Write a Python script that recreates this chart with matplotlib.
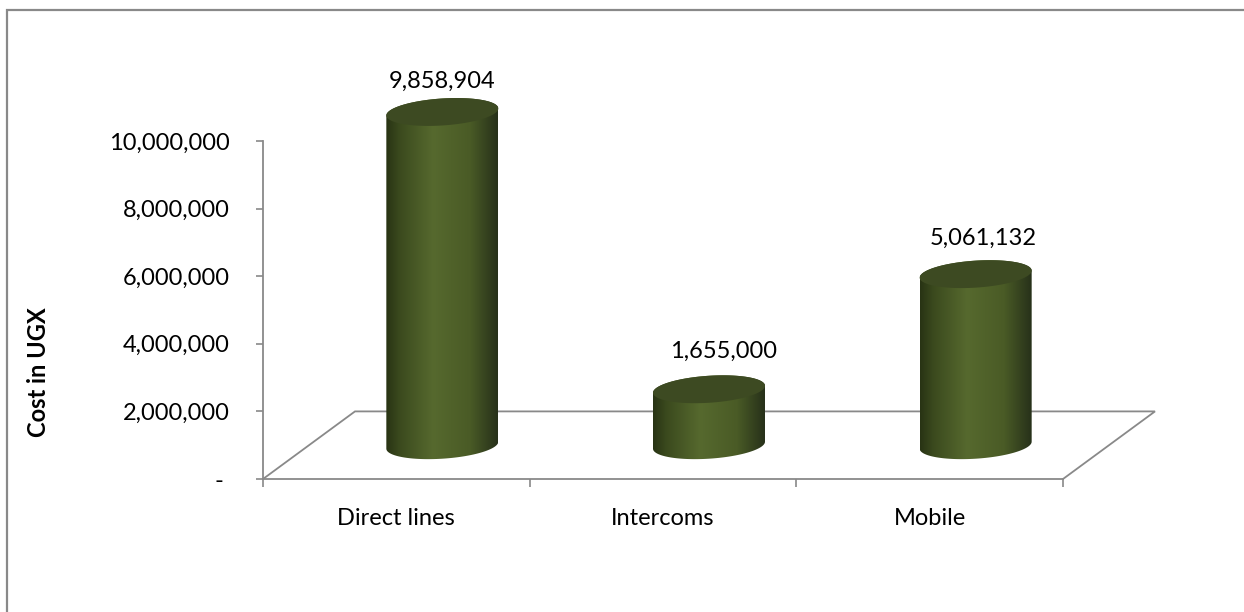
import numpy as np
import matplotlib
matplotlib.use("Agg")
import matplotlib.pyplot as plt
from matplotlib.patches import Polygon
from matplotlib.lines import Line2D
from matplotlib.colors import LinearSegmentedColormap
from matplotlib.ticker import FuncFormatter

categories = ["Direct lines", "Intercoms", "Mobile"]
costs = [9858904, 1655000, 5061132]
y_ticks = [0, 2000000, 4000000, 6000000, 8000000, 10000000]

plt.rcParams['font.family'] = ['Lato', 'DejaVu Sans']
FS = 17

W, H = 1244, 612
fig = plt.figure(figsize=(W / 100, H / 100), dpi=100)
ax = fig.add_axes([0, 0, 1, 1])
ax.patch.set_visible(False)

# plot area in pixels
x0_px, cat_px = 263, 800 / 3
y0_px, unit_px = 479, 338 / 1e7

grey = '#898989'
n = len(categories)
dx = 92 / cat_px          # depth of the floor, category units
dy = 2000000              # depth of the floor, value units
left, right = -0.5, n - 0.5

# floor outline (front edge is the bottom spine)
ax.plot([left, left + dx, right + dx, right], [0, dy, dy, 0],
        color=grey, lw=1.3, zorder=1, solid_joinstyle='miter')

# cylinders
a = 56 / cat_px
b = 13.5 / unit_px
shear = 3.5 / unit_px
base = dy / 2
cmap = LinearSegmentedColormap.from_list('cyl', [
    (0.0, '#283314'), (0.12, '#3b4a1e'), (0.42, '#56692e'),
    (0.75, '#4a5b26'), (1.0, '#27311a')])
t_front = np.linspace(np.pi, 2 * np.pi, 80)
t_back = np.linspace(0, np.pi, 80)
t_full = np.linspace(0, 2 * np.pi, 160)
for i, v in enumerate(costs):
    cx = i + dx / 2
    top = base + v
    xs = np.concatenate([cx + a * np.cos(t_front), cx + a * np.cos(t_back)])
    ys = np.concatenate([base + b * np.sin(t_front) + shear * np.cos(t_front),
                         top + b * np.sin(t_back) + shear * np.cos(t_back)])
    body = Polygon(np.column_stack([xs, ys]), closed=True, facecolor='none',
                   edgecolor='none', zorder=2)
    ax.add_patch(body)
    im = ax.imshow(np.linspace(0, 1, 256).reshape(1, -1), cmap=cmap,
                   extent=(cx - a, cx + a, base - b - shear, top + b + shear),
                   aspect='auto', interpolation='bilinear', zorder=2)
    im.set_clip_path(body)
    cap = Polygon(np.column_stack([cx + a * np.cos(t_full),
                                   top + b * np.sin(t_full) + shear * np.cos(t_full)]),
                  closed=True, facecolor='#3d4a22', edgecolor='none', zorder=3)
    ax.add_patch(cap)

ax.set_xlim(-0.5 - x0_px / cat_px, -0.5 + (W - x0_px) / cat_px)
ax.set_ylim(-(H - y0_px) / unit_px, y0_px / unit_px)

# value labels
label_shift = [(0, 17), (15, 24), (8, 22)]   # pixels
for i, v in enumerate(costs):
    cx = i + dx / 2
    sx, sy = label_shift[i]
    ax.annotate(f"{v:,}", (cx, base + v + b), xytext=(sx * 0.72, sy * 0.72),
                textcoords='offset points', ha='center', va='center',
                fontsize=FS, color='black', zorder=4)

# axes
for s in ['top', 'right']:
    ax.spines[s].set_visible(False)
ax.spines['left'].set_position(('data', left))
ax.spines['left'].set_bounds(0, y_ticks[-1])
ax.spines['bottom'].set_position(('data', 0))
ax.spines['bottom'].set_bounds(left, right)
for s in ['left', 'bottom']:
    ax.spines[s].set_color(grey)
    ax.spines[s].set_linewidth(1.3)

ax.set_yticks(y_ticks)
ax.yaxis.set_major_formatter(FuncFormatter(lambda v, p: '- ' if v == 0 else f"{int(v):,}"))
ax.tick_params(axis='y', direction='out', length=5, width=1.2, color=grey,
               pad=19, labelsize=FS)

ax.set_xticks(range(n))
ax.set_xticklabels(categories)
ax.set_xticks(np.arange(n + 1) - 0.5, minor=True)
ax.tick_params(axis='x', which='major', length=0, pad=21, labelsize=FS)
ax.tick_params(axis='x', which='minor', direction='out', length=6, width=1.2, color=grey)

ax.set_ylabel('Cost in UGX', fontsize=FS, fontweight='bold')
ax.yaxis.set_label_coords(39 / W, 1 - 372 / H)
ax.yaxis.label.set(va='center', ha='center', rotation_mode='anchor')

# chart frame (only left and top edges fall inside the picture)
fx, fy = 7 / W, 1 - 10 / H
fig.add_artist(Line2D([fx, fx, 1.01], [-0.01, fy, fy], transform=fig.transFigure,
                      color=grey, lw=1.6, solid_joinstyle='miter'))

fig.savefig('out.png', dpi=100, facecolor='white')
